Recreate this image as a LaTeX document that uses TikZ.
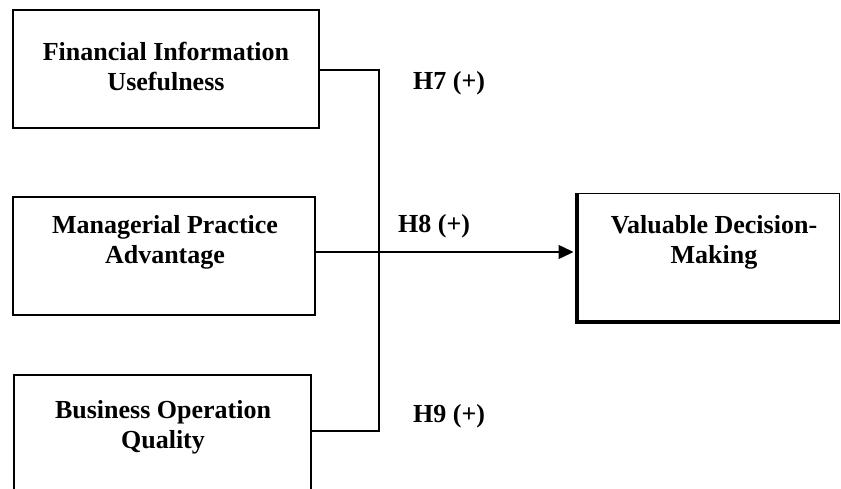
\documentclass[tikz,border=0pt]{standalone}
\usepackage{fontspec}
\setmainfont{Liberation Serif}
\usetikzlibrary{arrows.meta}
\begin{document}
\begin{tikzpicture}[x=1pt,y=-1pt,
  box/.style={draw,line width=1.6pt,rectangle,inner sep=0pt},
  lbl/.style={font=\fontsize{26}{30}\selectfont\bfseries,align=center,inner sep=0pt},
  hyp/.style={font=\fontsize{26}{30}\selectfont\bfseries,anchor=west,inner sep=0pt},
  link/.style={line width=1.5pt}]
\useasboundingbox (0,0) rectangle (841,488);
\clip (0,0) rectangle (841,488);

% construct boxes
\node[box,minimum width=306pt,minimum height=118pt] (b1) at (166,69) {};
\node[box,minimum width=302pt,minimum height=118pt] (b2) at (164,256) {};
\node[box,minimum width=297pt,minimum height=130pt] (b3) at (162.5,440) {};

% outcome box: thin frame, heavy left and bottom sides
\node[box,line width=1pt,minimum width=262pt,minimum height=128pt] (out) at (708,257) {};
\draw[line width=4pt] (out.north west) -- (out.south west) -- (out.south east);

% box texts
\node[lbl] (t1) at (166,67) {Financial Information\\Usefulness};
\node[lbl] (t2) at (165,242) {Managerial Practice\\Advantage};
\node[lbl] (t3) at (163,427) {Business Operation\\Quality};
\node[lbl] (t4) at (714,242) {Valuable Decision-\\Making};

% connector junctions
\coordinate (j1) at (379,70);
\coordinate (j2) at (379,252);
\coordinate (j3) at (379,431);

\draw[link] (b1.east |- j1) -- (j1) -- (j3) -- (b3.east |- j3);
\draw[link,-{Triangle[length=15pt,width=14pt]},shorten >=3pt] (b2.east |- j2) -- (out.west |- j2);

% hypothesis labels
\node[hyp] (h7) at (413,83) {H7 (+)};
\node[hyp] (h8) at (398,226) {H8 (+)};
\node[hyp] (h9) at (413,416) {H9 (+)};
\end{tikzpicture}
\end{document}
